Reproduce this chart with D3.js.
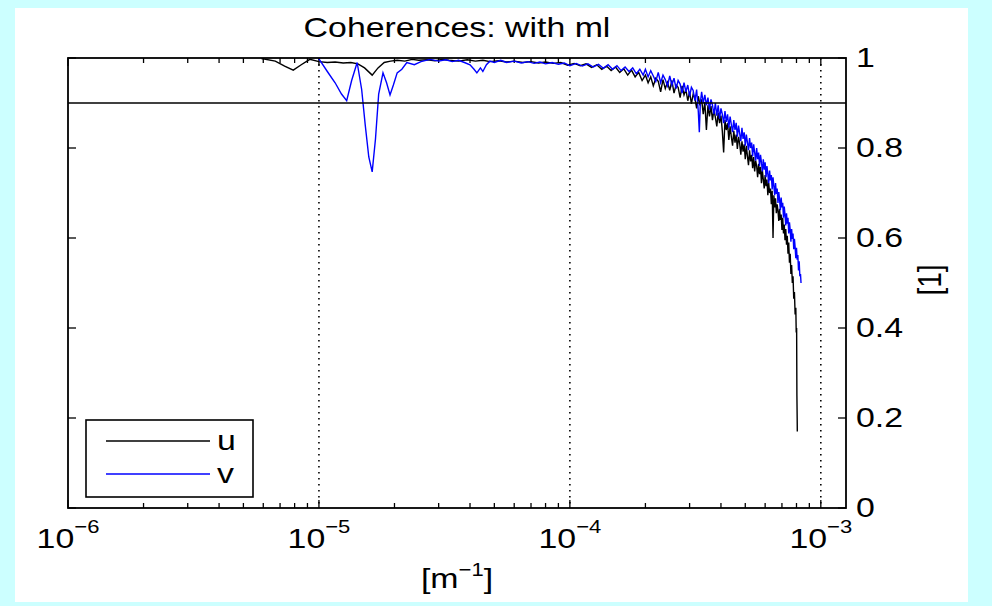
<!DOCTYPE html>
<html>
<head>
<meta charset="utf-8">
<script src="https://cdn.jsdelivr.net/npm/d3@7"></script>
<style>
  body { margin: 0; background: #ccffff; }
  svg { display: block; }
  text { font-family: "Liberation Sans", Arial, sans-serif; fill: #000; }
</style>
</head>
<body>
<div id="chart"></div>
<script>
// coherence u (black): [frequency in 1e-6 m^-1, coherence]
const seriesU = [
  [5.9, 0.999], [6.7, 0.993], [7.3, 0.982], [7.9, 0.973], [8.5, 0.985], [9.2, 0.997],
  [10, 0.992], [10.8, 0.99], [11.6, 0.991], [12.5, 0.989], [13.4, 0.99], [14.3, 0.987],
  [15.2, 0.978], [16.3, 0.962], [17.2, 0.978], [18.2, 0.99], [19.3, 0.993], [20.5, 0.995],
  [22, 0.993], [23.5, 0.997], [25, 0.995], [27, 0.996], [29, 0.994], [31, 0.997],
  [33, 0.995], [36, 0.993], [39, 0.996], [42, 0.993], [45, 0.995], [48, 0.992],
  [52, 0.994], [56, 0.991], [60, 0.993], [65, 0.99], [70, 0.992], [75, 0.989],
  [80, 0.991], [86, 0.988], [92, 0.99], [98, 0.984], [104, 0.988], [110, 0.983],
  [116, 0.987], [122, 0.979], [128, 0.985], [134, 0.975], [140, 0.982], [146, 0.972],
  [152, 0.98], [158, 0.968], [164, 0.976], [170, 0.962], [176, 0.973], [182, 0.958],
  [188, 0.968], [194, 0.95], [200, 0.962], [205, 0.945], [210, 0.958], [215, 0.938],
  [220, 0.955], [225, 0.948], [230, 0.925], [235, 0.952], [240, 0.932], [245, 0.946],
  [250, 0.928], [255, 0.95], [260, 0.922], [265, 0.94], [270, 0.935], [275, 0.912],
  [280, 0.938], [285, 0.918], [290, 0.93], [295, 0.905], [300, 0.925], [305, 0.898],
  [310, 0.92], [315, 0.91], [320, 0.888], [325, 0.915], [330, 0.895], [335, 0.908],
  [340, 0.875], [345, 0.902], [350, 0.84], [355, 0.895], [360, 0.87], [365, 0.893],
  [370, 0.862], [375, 0.885], [380, 0.868], [385, 0.848], [390, 0.878], [395, 0.855],
  [400, 0.872], [405, 0.838], [410, 0.79], [415, 0.862], [420, 0.84], [425, 0.855],
  [430, 0.818], [435, 0.848], [440, 0.825], [445, 0.805], [450, 0.838], [455, 0.812],
  [460, 0.83], [465, 0.798], [470, 0.825], [475, 0.81], [480, 0.785], [485, 0.815],
  [490, 0.792], [495, 0.808], [500, 0.775], [505, 0.805], [510, 0.782], [515, 0.762],
  [520, 0.795], [525, 0.77], [530, 0.785], [535, 0.755], [540, 0.78], [545, 0.748],
  [550, 0.772], [555, 0.76], [560, 0.735], [565, 0.765], [570, 0.742], [575, 0.758],
  [580, 0.722], [585, 0.75], [590, 0.73], [595, 0.71], [600, 0.74], [605, 0.715],
  [610, 0.73], [615, 0.695], [620, 0.722], [625, 0.7], [630, 0.71], [635, 0.675],
  [640, 0.705], [645, 0.6], [650, 0.695], [655, 0.668], [660, 0.688], [665, 0.655],
  [670, 0.675], [675, 0.66], [680, 0.638], [685, 0.665], [690, 0.64], [695, 0.652],
  [700, 0.618], [705, 0.645], [710, 0.61], [715, 0.63], [720, 0.595], [725, 0.62],
  [730, 0.585], [735, 0.605], [740, 0.565], [745, 0.59], [750, 0.545], [755, 0.565],
  [760, 0.52], [765, 0.54], [770, 0.5], [775, 0.515], [780, 0.465], [785, 0.48],
  [790, 0.43], [795, 0.445], [798, 0.39], [801, 0.4], [803, 0.25], [805, 0.2],
  [806, 0.17]
];

// coherence v (blue)
const seriesV = [
  [10, 0.998], [10.8, 0.97], [11.6, 0.945], [12.3, 0.92], [12.9, 0.905], [13.5, 0.95],
  [14.2, 0.99], [14.8, 0.93], [15.3, 0.85], [15.8, 0.78], [16.3, 0.747], [16.8, 0.82],
  [17.3, 0.92], [18, 0.967], [18.6, 0.945], [19.2, 0.918], [19.8, 0.94], [20.5, 0.967],
  [21.4, 0.975], [22.4, 0.99], [24, 0.985], [25.5, 0.992], [27.7, 0.997], [30, 0.993],
  [32, 0.996], [34, 0.992], [36, 0.995], [38, 0.99], [40, 0.985], [41.5, 0.975],
  [42.6, 0.967], [44, 0.978], [45, 0.97], [46.5, 0.985], [48, 0.993], [50, 0.99],
  [53, 0.995], [56, 0.99], [60, 0.993], [64, 0.989], [68, 0.992], [72, 0.988],
  [76, 0.991], [80, 0.987], [85, 0.99], [90, 0.986], [95, 0.989], [100, 0.983],
  [106, 0.988], [112, 0.982], [118, 0.987], [124, 0.98], [130, 0.986], [136, 0.977],
  [142, 0.985], [148, 0.975], [154, 0.983], [160, 0.972], [166, 0.98], [172, 0.97],
  [178, 0.978], [184, 0.965], [190, 0.975], [196, 0.962], [200, 0.975], [205, 0.958],
  [210, 0.972], [215, 0.96], [220, 0.948], [225, 0.968], [230, 0.945], [235, 0.962],
  [240, 0.952], [245, 0.938], [250, 0.96], [255, 0.94], [260, 0.955], [265, 0.932],
  [270, 0.95], [275, 0.942], [280, 0.922], [285, 0.945], [290, 0.925], [295, 0.94],
  [300, 0.915], [305, 0.935], [310, 0.928], [315, 0.905], [320, 0.93], [325, 0.88],
  [328, 0.835], [331, 0.9], [335, 0.925], [340, 0.9], [345, 0.918], [350, 0.895],
  [355, 0.912], [360, 0.885], [365, 0.908], [370, 0.895], [375, 0.875], [380, 0.9],
  [385, 0.872], [390, 0.895], [395, 0.865], [400, 0.888], [405, 0.875], [410, 0.855],
  [415, 0.882], [420, 0.858], [425, 0.875], [430, 0.845], [435, 0.87], [440, 0.852],
  [445, 0.835], [450, 0.862], [455, 0.84], [460, 0.856], [465, 0.825], [470, 0.85],
  [475, 0.832], [480, 0.815], [485, 0.845], [490, 0.82], [495, 0.835], [500, 0.805],
  [505, 0.83], [510, 0.812], [515, 0.795], [520, 0.822], [525, 0.8], [530, 0.812],
  [535, 0.782], [540, 0.808], [545, 0.79], [550, 0.772], [555, 0.8], [560, 0.775],
  [565, 0.79], [570, 0.76], [575, 0.785], [580, 0.768], [585, 0.748], [590, 0.775],
  [595, 0.752], [600, 0.768], [605, 0.735], [610, 0.76], [615, 0.742], [620, 0.722],
  [625, 0.75], [630, 0.728], [635, 0.74], [640, 0.708], [645, 0.735], [650, 0.715],
  [655, 0.695], [660, 0.722], [665, 0.698], [670, 0.71], [675, 0.678], [680, 0.702],
  [685, 0.685], [690, 0.662], [695, 0.69], [700, 0.668], [705, 0.678], [710, 0.645],
  [715, 0.67], [720, 0.652], [725, 0.628], [730, 0.655], [735, 0.632], [740, 0.645],
  [745, 0.61], [750, 0.635], [755, 0.618], [760, 0.592], [765, 0.62], [770, 0.598],
  [775, 0.61], [780, 0.575], [785, 0.598], [790, 0.58], [795, 0.555], [800, 0.578],
  [805, 0.552], [810, 0.562], [815, 0.528], [820, 0.548], [825, 0.515], [830, 0.52],
  [834, 0.5]
];

const yTicks = [0, 0.2, 0.4, 0.6, 0.8, 1];
const xMajor = [1e-6, 1e-5, 1e-4, 1e-3];
const legendItems = [
  { name: 'u', color: '#000000' },
  { name: 'v', color: '#0000ff' }
];
const refLevel = 0.9;

const width = 992;
const height = 606;
const margin = { top: 58, right: 146, bottom: 98, left: 68 };
const SX = 1.21; // the figure is stretched sideways
const fs = 28;

const svg = d3.select('#chart')
  .append('svg')
  .attr('width', width)
  .attr('height', height);

svg.append('rect')
  .attr('x', 15).attr('y', 8)
  .attr('width', 953).attr('height', 594)
  .attr('fill', '#fff');

const x = d3.scaleLog()
  .domain([1e-6, 1.26e-3])
  .range([margin.left, width - margin.right]);

const y = d3.scaleLinear()
  .domain([0, 1])
  .range([height - margin.bottom, margin.top]);

const x0 = x.range()[0], x1 = x.range()[1];
const y0 = y.range()[0], y1 = y.range()[1];

function label(g, px, py, anchor) {
  return g.append('text')
    .attr('transform', `translate(${px},${py}) scale(${SX},1)`)
    .attr('text-anchor', anchor)
    .attr('font-size', fs);
}

svg.append('clipPath').attr('id', 'plot')
  .append('rect')
  .attr('x', x0).attr('y', y1)
  .attr('width', x1 - x0).attr('height', y0 - y1);

// dotted grid at decades
svg.append('g')
  .selectAll('line')
  .data(xMajor.slice(1))
  .join('line')
    .attr('x1', d => x(d)).attr('x2', d => x(d))
    .attr('y1', y1).attr('y2', y0)
    .attr('stroke', '#000')
    .attr('stroke-width', 1.6)
    .attr('stroke-dasharray', '1.6,4.4');

// ticks on the box
const tk = svg.append('g').attr('stroke', '#000').attr('stroke-width', 1.3);
const logTicks = x.ticks();
tk.selectAll('.tb')
  .data(logTicks)
  .join('line')
    .attr('class', 'tb')
    .attr('x1', d => x(d)).attr('x2', d => x(d))
    .attr('y1', y0).attr('y2', d => y0 - (xMajor.includes(d) ? 8 : 5));
tk.selectAll('.tt')
  .data(logTicks)
  .join('line')
    .attr('class', 'tt')
    .attr('x1', d => x(d)).attr('x2', d => x(d))
    .attr('y1', y1).attr('y2', d => y1 + (xMajor.includes(d) ? 8 : 5));
tk.selectAll('.tl')
  .data(yTicks)
  .join('line')
    .attr('class', 'tl')
    .attr('x1', x0).attr('x2', x0 + 8)
    .attr('y1', d => y(d)).attr('y2', d => y(d));
tk.selectAll('.tr')
  .data(yTicks)
  .join('line')
    .attr('class', 'tr')
    .attr('x1', x1).attr('x2', x1 - 8)
    .attr('y1', d => y(d)).attr('y2', d => y(d));

// series
const line = d3.line()
  .x(d => x(d[0] * 1e-6))
  .y(d => y(d[1]));

const lines = svg.append('g').attr('clip-path', 'url(#plot)');
lines.append('path')
  .datum(seriesU)
  .attr('fill', 'none')
  .attr('stroke', legendItems[0].color)
  .attr('stroke-width', 1.4)
  .attr('d', line);
lines.append('path')
  .datum(seriesV)
  .attr('fill', 'none')
  .attr('stroke', legendItems[1].color)
  .attr('stroke-width', 1.4)
  .attr('d', line);

// reference line
svg.append('line')
  .attr('x1', x0).attr('x2', x1)
  .attr('y1', y(refLevel)).attr('y2', y(refLevel))
  .attr('stroke', '#000')
  .attr('stroke-width', 1.6);

// box
svg.append('rect')
  .attr('x', x0).attr('y', y1)
  .attr('width', x1 - x0).attr('height', y0 - y1)
  .attr('fill', 'none')
  .attr('stroke', '#000')
  .attr('stroke-width', 1.8);

// x tick labels
const labels = svg.append('g');
xMajor.forEach(d => {
  const t = label(labels, x(d), y0 + 40, 'middle');
  t.append('tspan').text('10');
  t.append('tspan')
    .attr('font-size', fs * 0.65)
    .attr('dy', -15)
    .text('\u2212' + Math.round(-Math.log10(d)));
});

// y tick labels, right side
yTicks.forEach(d => {
  label(labels, x1 + 10, y(d) + 9, 'start').text(d === 0 || d === 1 ? d : d.toFixed(1));
});

// title and axis titles
label(svg, (x0 + x1) / 2, 37, 'middle').text('Coherences: with ml');

const xt = label(svg, (x0 + x1) / 2, 588, 'middle');
xt.append('tspan').text('[m');
xt.append('tspan').attr('font-size', fs * 0.65).attr('dy', -12).text('\u22121');
xt.append('tspan').attr('dy', 12).text(']');

svg.append('text')
  .attr('transform', `translate(941,280) rotate(-90) scale(1,${SX})`)
  .attr('text-anchor', 'middle')
  .attr('font-size', fs)
  .text('[1]');

// legend
const lg = svg.append('g');
lg.append('rect')
  .attr('x', 86).attr('y', 420)
  .attr('width', 167).attr('height', 77)
  .attr('fill', '#fff')
  .attr('stroke', '#000')
  .attr('stroke-width', 1.6);
legendItems.forEach((d, i) => {
  const ly = 441 + i * 33;
  lg.append('line')
    .attr('x1', 106).attr('x2', 210)
    .attr('y1', ly).attr('y2', ly)
    .attr('stroke', d.color)
    .attr('stroke-width', 1.3);
  label(lg, 217, ly + 9, 'start').text(d.name);
});
</script>
</body>
</html>
